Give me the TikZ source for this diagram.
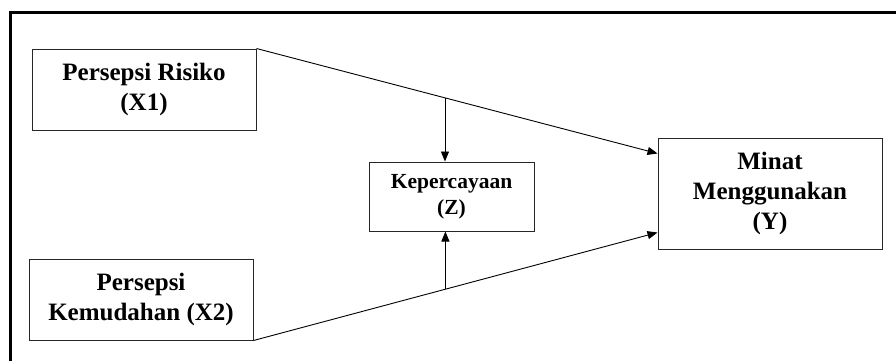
\documentclass[tikz,border=0pt]{standalone}
\usepackage{fontspec}
\setmainfont{Liberation Serif}
\usepackage{tikz}
\usetikzlibrary{calc, arrows.meta}

\begin{document}
\begin{tikzpicture}[x=1pt, y=1pt,
    varbox/.style={draw=black!85, line width=1pt, align=center, inner sep=0pt,
        font=\bfseries\fontsize{25}{30}\selectfont},
    link/.style={line width=0.9pt, -{Triangle[length=10pt, width=8pt]}}]
    \useasboundingbox (0, 0) rectangle (896, 360);

    % outer frame, runs off the page on the right and at the bottom
    \draw[line width=3pt] (10, -20) -- (10, 348) -- (920, 348);

    \node[varbox, minimum width=224pt, minimum height=81pt] (risk) at (144, 270.5)
        {Persepsi Risiko\\(X1)};
    \node[varbox, minimum width=224pt, minimum height=81pt] (ease) at (141, 60.5)
        {Persepsi\\Kemudahan (X2)};
    \node[varbox, minimum width=165pt, minimum height=69pt,
        font=\bfseries\fontsize{21.5}{26}\selectfont] (trust) at (451.5, 163.5)
        {Kepercayaan\\(Z)};
    \node[varbox, minimum width=224pt, minimum height=111pt] (intent) at (770, 166.5)
        {Minat\\Menggunakan\\(Y)};

    \coordinate (upEnd) at ([yshift=-16pt]intent.north west);
    \coordinate (lowEnd) at ([yshift=17pt]intent.south west);
    \coordinate (upMid) at ($(risk.north east)!0.47!(upEnd)$);
    \coordinate (lowMid) at ($(ease.south east)!0.475!(lowEnd)$);

    \draw[link] (risk.north east) -- (upEnd);
    \draw[link] (ease.south east) -- (lowEnd);
    \draw[link] (upMid) -- (upMid |- trust.north);
    \draw[link] (lowMid) -- (lowMid |- trust.south);
\end{tikzpicture}
\end{document}
